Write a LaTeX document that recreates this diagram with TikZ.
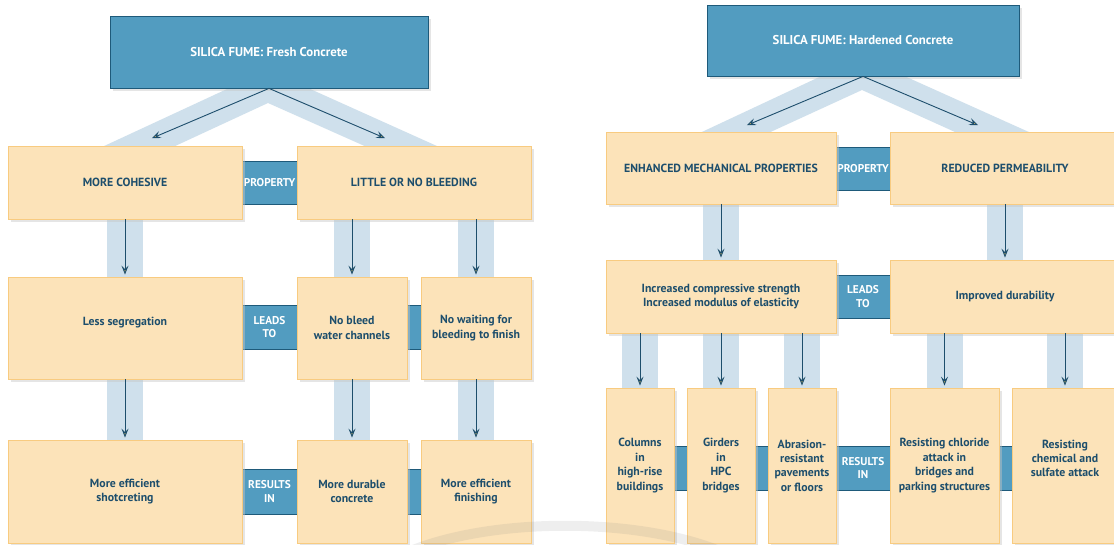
\documentclass[tikz,border=0pt]{standalone}
\usepackage{fontspec}
\setmainfont{PT Sans}
\usetikzlibrary{arrows.meta,shadows,backgrounds}
\definecolor{tblue}{HTML}{529CC0}
\definecolor{tborder}{HTML}{1E5A7A}
\definecolor{bandc}{HTML}{CFE0EC}
\definecolor{beige}{HTML}{FCE3B9}
\definecolor{beigeb}{HTML}{F8CB80}
\definecolor{txt}{HTML}{1D4E6C}
\definecolor{arrowy}{HTML}{E8C15A}
\newcommand\bx[7][]{\node[#1, minimum width={#5-#3}, minimum height={#6-#4}] (#2) at ({(#3+#5)/2},{(#4+#6)/2}) {#7};}
\tikzset{
  shad/.style={drop shadow={shadow xshift=3pt, shadow yshift=-3pt, fill=gray!45, opacity=0.45}},
  titlebox/.style={shad, draw=tborder, fill=tblue, line width=0.8pt, text=white, inner sep=0pt,
    font=\bfseries\fontsize{12.8}{15}\selectfont},
  ybox/.style={shad, draw=beigeb, fill=beige, line width=0.8pt, text=txt, align=center, inner sep=0pt,
    font=\bfseries\fontsize{11.8}{14.4}\selectfont},
  link/.style={draw=tborder, fill=tblue, line width=0.8pt, text=white, align=center, inner sep=0pt,
    font=\bfseries\fontsize{11.3}{13.5}\selectfont},
  vband/.style={bandc, line width=36pt},
  chev/.style={fill=bandc, draw=none},
  arr/.style={draw=txt, line width=0.9pt, shorten >=2pt,
    -{Stealth[length=9pt, width=7pt, inset=3.5pt, fill=arrowy]}}
}
\begin{document}
\begin{tikzpicture}[x=1pt,y=-1pt]
\useasboundingbox (0,0) rectangle (1114,544);
\clip (0,0) rectangle (1114,544);
% ---------------- left panel ----------------
\bx[link]{p1}{240}{161}{299}{204}{PROPERTY}
\bx[link]{l1}{240}{305}{299}{349}{LEADS\\TO}
\bx[link]{l1b}{405}{305}{423}{349}{}
\bx[link]{r1}{240}{469}{299}{514}{RESULTS\\IN}
\bx[link]{r1b}{405}{469}{423}{514}{}
\bx[titlebox]{t1}{110}{16}{428}{88}{SILICA FUME: Fresh Concrete}
\bx[ybox]{mc}{8}{146}{242}{219}{MORE COHESIVE}
\bx[ybox]{lb}{297}{146}{531}{219}{LITTLE OR NO BLEEDING}
\bx[ybox]{ls}{8}{277}{242}{379}{Less segregation\\\mbox{}}
\bx[ybox]{nb}{297}{277}{407}{379}{No bleed\\water channels}
\bx[ybox]{nw}{421}{277}{531}{379}{No waiting for\\bleeding to finish}
\bx[ybox]{ms}{8}{440}{242}{543}{More efficient\\shotcreting}
\bx[ybox]{md}{297}{440}{407}{543}{More durable\\concrete}
\bx[ybox]{mf}{421}{440}{531}{543}{More efficient\\finishing}
% ---------------- right panel ----------------
\bx[link]{p2}{834}{147}{892}{190}{PROPERTY}
\bx[link]{l2}{834}{275}{892}{318}{LEADS\\TO}
\bx[link]{s1}{672}{446}{689}{490}{}
\bx[link]{s2}{753}{446}{770}{490}{}
\bx[link]{r2}{834}{446}{892}{490}{RESULTS\\IN}
\bx[link]{s3}{997}{446}{1014}{490}{}
\bx[titlebox]{t2}{707}{5}{1019}{76}{SILICA FUME: Hardened Concrete}
\bx[ybox]{em}{606}{132}{836}{204}{ENHANCED MECHANICAL PROPERTIES}
\bx[ybox]{rp}{890}{132}{1120}{204}{REDUCED PERMEABILITY}
\bx[ybox]{ic}{606}{260}{836}{333}{Increased compressive strength\\Increased modulus of elasticity}
\bx[ybox]{id}{890}{260}{1120}{333}{Improved durability}
\bx[ybox]{co}{606}{388}{674}{543}{Columns\\in\\high-rise\\buildings}
\bx[ybox]{gi}{687}{388}{755}{543}{Girders\\in\\HPC\\bridges}
\bx[ybox]{ab}{768}{388}{836}{543}{Abrasion-\\resistant\\pavements\\or floors}
\bx[ybox]{rc}{890}{388}{999}{543}{Resisting chloride\\attack in\\bridges and\\parking structures}
\bx[ybox]{rs}{1012}{388}{1118}{543}{Resisting\\chemical and\\sulfate attack\\\mbox{}}
\coordinate (a1) at (150,139);
\coordinate (a2) at (387,139);
\coordinate (a3) at (745,126);
\coordinate (a4) at (980,126);
% faint swoosh over the lower edge
\draw[gray, opacity=0.13, line width=10pt] (395,558) .. controls (480,515) and (650,515) .. (735,558);
% ---------------- bands ----------------
\begin{pgfonlayer}{background}
\fill[white] (0,0) rectangle (1114,544);
\fill[chev] (74,160) -- (268,70) -- (468,160) -- (396,160) -- (268,103) -- (145,160) -- cycle;
\fill[chev] (672,146) -- (862,57) -- (1060,146) -- (986,146) -- (862,90) -- (740,146) -- cycle;
\draw[vband] (mc.south) -- (ls.north);
\draw[vband] (ls.south) -- (ms.north);
\draw[vband] (lb.south -| nb.north) -- (nb.north);
\draw[vband] (lb.south -| nw.north) -- (nw.north);
\draw[vband] (nb.south) -- (md.north);
\draw[vband] (nw.south) -- (mf.north);
\draw[vband] (em.south -| 721,0) -- (ic.north -| 721,0);
\draw[vband] (rp.south) -- (id.north);
\draw[vband] (ic.south -| co.north) -- (co.north);
\draw[vband] (ic.south -| gi.north) -- (gi.north);
\draw[vband] (ic.south -| ab.north) -- (ab.north);
\draw[vband] (id.south -| rc.north) -- (rc.north);
\draw[vband] (id.south -| rs.north) -- (rs.north);
\end{pgfonlayer}
% ---------------- arrows ----------------
\draw[arr] (t1.south) -- (a1);
\draw[arr] (t1.south) -- (a2);
\draw[arr] (t2.south) -- (a3);
\draw[arr] (t2.south) -- (a4);
\draw[arr] (mc.south) -- (ls.north);
\draw[arr] (ls.south) -- (ms.north);
\draw[arr] (lb.south -| nb.north) -- (nb.north);
\draw[arr] (lb.south -| nw.north) -- (nw.north);
\draw[arr] (nb.south) -- (md.north);
\draw[arr] (nw.south) -- (mf.north);
\draw[arr] (em.south -| 721,0) -- (ic.north -| 721,0);
\draw[arr] (rp.south) -- (id.north);
\draw[arr] (ic.south -| co.north) -- (co.north);
\draw[arr] (ic.south -| gi.north) -- (gi.north);
\draw[arr] (ic.south -| ab.north) -- (ab.north);
\draw[arr] (id.south -| rc.north) -- (rc.north);
\draw[arr] (id.south -| rs.north) -- (rs.north);
\end{tikzpicture}
\end{document}
